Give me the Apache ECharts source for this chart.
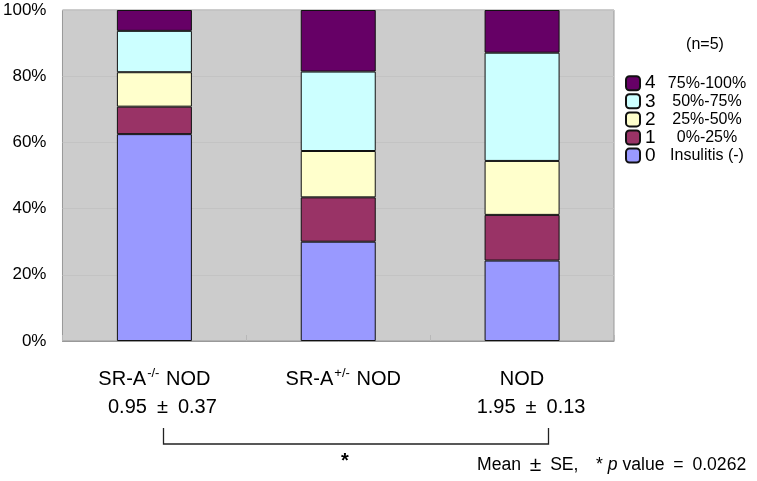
<!DOCTYPE html>
<html>
<head>
<meta charset="utf-8">
<script src="https://cdn.jsdelivr.net/npm/echarts@6/dist/echarts.min.js"></script>
<style>html,body{margin:0;padding:0;background:#fff}#c{width:757px;height:481px}</style>
</head>
<body>
<div id="c"></div>
<script>
// ---- data ----
var categories = ['SR-A-/- NOD', 'SR-A+/- NOD', 'NOD'];
var meanSE = ['0.95\u2002±\u20020.37', '', '1.95\u2002±\u20020.13'];
var gradeNames = ['0', '1', '2', '3', '4'];
var gradeRanges = ['Insulitis (-)', '0%-25%', '25%-50%', '50%-75%', '75%-100%'];
var grade0 = [62.5, 30.0, 24.3];
var grade1 = [8.3, 13.4, 13.8];
var grade2 = [10.4, 14.0, 16.3];
var grade3 = [12.5, 24.0, 32.7];
var grade4 = [6.3, 18.6, 12.9];
var yTicks = [0, 20, 40, 60, 80, 100];
var sampleNote = '(n=5)';
var statNote = ['Mean\u2002', '±', '\u2002SE,\u2002\u2002* ', 'p', ' value\u2002=\u20020.0262'];

var gradeColors = ['#9999FF', '#993366', '#FFFFCC', '#CCFFFF', '#660066'];
var gradeData = [grade0, grade1, grade2, grade3, grade4];
var FONT = "'Liberation Sans', Arial, sans-serif";

var series = gradeNames.map(function (n, i) {
  return {
    name: n, type: 'bar', stack: 'all', barWidth: 75,
    data: gradeData[i],
    itemStyle: { color: gradeColors[i], borderColor: '#111', borderWidth: 1 },
    emphasis: { disabled: true }
  };
});

var valueShift = [16, 0, 18];
var labelShift = [0, 10, 0];

var chart = echarts.init(document.getElementById('c'), null, { renderer: 'canvas' });
chart.setOption({
  animation: false,
  textStyle: { fontFamily: FONT, color: '#000' },
  grid: { left: 60, right: 143, top: 10, bottom: 140, show: true,
          backgroundColor: '#CCCCCC', borderColor: '#999999', borderWidth: 1 },
  xAxis: {
    type: 'category', data: categories,
    axisLine: { lineStyle: { color: '#999999' } },
    axisTick: { show: true, inside: true, length: 6, lineStyle: { color: '#b8b8b8' } },
    axisLabel: {
      margin: 24, color: '#000', fontFamily: FONT,
      formatter: function (value, idx) {
        var m = value.match(/^(.*?)([+-]\/-)(.*)$/);
        var first = m ? '{t' + idx + '|' + m[1] + '}{s|' + m[2] + '}{t|' + m[3] + '}' : '{t|' + value + '}';
        var v = meanSE[idx];
        return v ? first + '\n{v' + idx + '|' + v + '}' : first;
      },
      rich: {
        t: { fontSize: 20, lineHeight: 28, fontFamily: FONT, color: '#000' },
        t0: { fontSize: 20, lineHeight: 28, fontFamily: FONT, color: '#000', padding: [0, 0, 0, labelShift[0]] },
        t1: { fontSize: 20, lineHeight: 28, fontFamily: FONT, color: '#000', padding: [0, 0, 0, labelShift[1]] },
        s: { fontSize: 13, lineHeight: 28, verticalAlign: 'top', padding: [2, 1, 0, 1], fontFamily: FONT, color: '#000' },
        v0: { fontSize: 20, lineHeight: 28, fontFamily: FONT, color: '#000', padding: [0, 0, 0, valueShift[0]] },
        v2: { fontSize: 20, lineHeight: 28, fontFamily: FONT, color: '#000', padding: [0, 0, 0, valueShift[2]] }
      }
    }
  },
  yAxis: {
    type: 'value', min: yTicks[0], max: yTicks[yTicks.length - 1], interval: yTicks[1] - yTicks[0],
    axisLine: { show: false }, axisTick: { show: false },
    splitLine: { lineStyle: { color: '#c3c3c3', width: 1 } },
    axisLabel: { margin: 16, fontSize: 17, color: '#000', fontFamily: FONT, formatter: '{value}%' }
  },
  legend: {
    orient: 'vertical', left: 625, top: 73.7, padding: 0,
    itemWidth: 14, itemHeight: 14, itemGap: -0.9,
    data: gradeNames.slice().reverse(),
    selectedMode: false,
    formatter: function (name) {
      return '{n|' + name + '}{r|' + gradeRanges[+name] + '}';
    },
    textStyle: {
      fontFamily: FONT, color: '#000', lineHeight: 14,
      rich: {
        n: { fontSize: 19, width: 20, lineHeight: 14, fontFamily: FONT, color: '#000' },
        r: { fontSize: 16, width: 84, lineHeight: 14, align: 'center', fontFamily: FONT, color: '#000' }
      }
    }
  },
  graphic: [
    { type: 'text', x: 705, y: 45,
      style: { text: sampleNote, font: '16px ' + FONT, fill: '#000', textAlign: 'center', textVerticalAlign: 'middle' } },
    { type: 'polyline', shape: { points: [[163.5, 428], [163.5, 444], [548.5, 444], [548.5, 428]] },
      style: { stroke: '#222', lineWidth: 1.3, fill: null } },
    { type: 'text', x: 345, y: 461,
      style: { text: '*', font: 'bold 20px ' + FONT, fill: '#000', textAlign: 'center', textVerticalAlign: 'middle' } },
    { type: 'text', x: 477, y: 465,
      style: {
        text: '{a|' + statNote[0] + '}{pm|' + statNote[1] + '}{a|' + statNote[2] + '}{i|' + statNote[3] + '}{a|' + statNote[4] + '}',
        textAlign: 'left', textVerticalAlign: 'middle', fill: '#000',
        rich: {
          a: { fontSize: 17.6, fontFamily: FONT, fill: '#000' },
          pm: { fontSize: 21, fontFamily: FONT, fill: '#000' },
          i: { fontSize: 17.6, fontFamily: FONT, fontStyle: 'italic', fill: '#000' }
        }
      } }
  ],
  series: series
});
</script>
</body>
</html>
